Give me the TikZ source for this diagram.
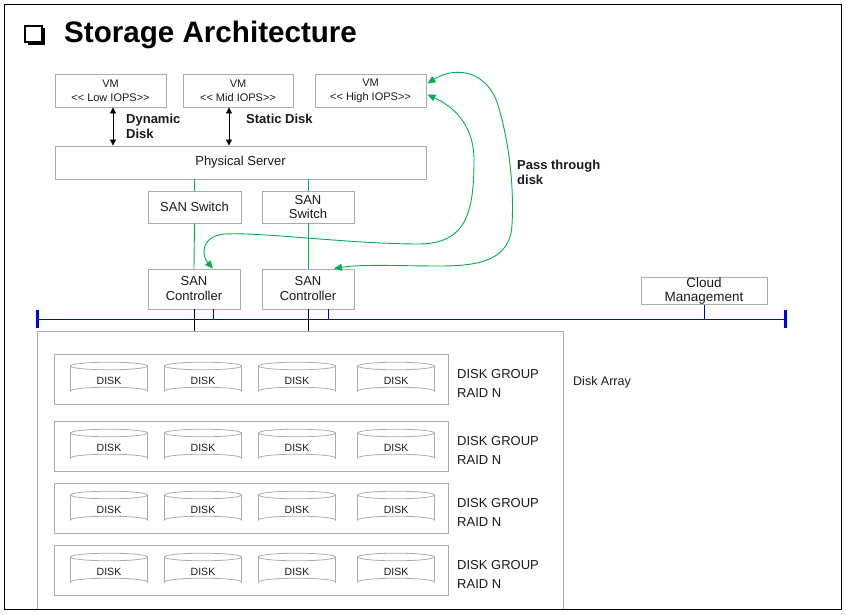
\documentclass[tikz,border=0pt]{standalone}
\usepackage{fontspec}
\setmainfont{Liberation Sans}
\usetikzlibrary{arrows.meta,calc}
\definecolor{boxgray}{RGB}{172,172,172}
\definecolor{pgreen}{RGB}{0,176,80}
\definecolor{busblue}{RGB}{0,0,240}
\definecolor{txt}{RGB}{25,25,35}
\newcommand{\mydisk}[3]{%
  \draw[diskline] (#2-38.5,#3+12) -- (#2-38.5,#3+37) arc[start angle=180,end angle=360,x radius=38.5,y radius=3.8] -- (#2+38.5,#3+12);
  \draw[diskline] (#2,#3+12) ellipse[x radius=38.5,y radius=3.8];
  \node[disktxt] (#1) at (#2,#3+27) {DISK};}
\begin{document}
\begin{tikzpicture}[x=1pt,y=-1pt,
  box/.style={draw=boxgray, line width=0.9pt, inner sep=0pt, align=center, text=txt},
  vmbox/.style={box, minimum height=33pt, font=\fontsize{11}{14}\selectfont},
  bigbox/.style={box, font=\fontsize{13}{14}\selectfont},
  grp/.style={draw=boxgray, line width=0.9pt, minimum width=394pt, minimum height=50pt, inner sep=0pt},
  diskline/.style={draw=boxgray, line width=0.8pt},
  disktxt/.style={font=\fontsize{10.5}{12}\selectfont, text=txt, inner sep=0pt},
  grplbl/.style={anchor=west, align=left, inner sep=0pt, text=txt, font=\fontsize{13}{19}\selectfont},
  lbl/.style={anchor=west, align=left, inner sep=0pt, text=txt, font=\fontsize{13}{15}\selectfont\bfseries},
  blk/.style={draw=black, line width=0.8pt},
  dbl/.style={blk, {Triangle[length=6pt,width=6pt]}-{Triangle[length=6pt,width=6pt]}},
  grn/.style={draw=pgreen, line width=0.9pt},
  grnarr/.style={grn, {Triangle[length=8pt,width=7pt]}-{Triangle[length=8pt,width=7pt]}},
  bus/.style={draw=busblue, line width=0.9pt},
  buscap/.style={draw=busblue, line width=3pt}]
\useasboundingbox (0,0) rectangle (846,615);
% frame
\draw[line width=1pt] (4,5) rectangle (841,609);
% title
\draw[line width=2pt] (25,26) rectangle (42,42);
\fill (42,28.5) rectangle (45,45);
\fill (27.5,42) rectangle (45,45);
\node[anchor=west, inner sep=0pt, font=\fontsize{29.6}{32}\selectfont\bfseries] (title) at (64,35) {Storage Architecture};
% VMs
\node[vmbox, minimum width=111pt] (vm1) at (110.5,90.5) {VM\\{<}{<} Low IOPS{>}{>}};
\node[vmbox, minimum width=110pt] (vm2) at (238,90.5) {VM\\{<}{<} Mid IOPS{>}{>}};
\node[vmbox, minimum width=111pt] (vm3) at (370.5,90.5) {VM\\{<}{<} High IOPS{>}{>}};
% physical server
\node[bigbox, minimum width=371pt, minimum height=33pt] (ps) at (240.5,162.5) {Physical Server};
% switches
\node[bigbox, minimum width=93pt, minimum height=32pt] (sw1) at (194.5,207) {SAN Switch};
\node[bigbox, minimum width=92pt, minimum height=32pt] (sw2) at (308,207) {SAN\\Switch};
% controllers
\node[bigbox, minimum width=92pt, minimum height=40pt, font=\fontsize{13}{15}\selectfont] (ctl1) at (194,289) {SAN\\Controller};
\node[bigbox, minimum width=92pt, minimum height=40pt, font=\fontsize{13}{15}\selectfont] (ctl2) at (308,289) {SAN\\Controller};
% cloud
\node[bigbox, minimum width=126pt, minimum height=24pt, font=\fontsize{13.5}{14}\selectfont] (cloud) at (704,291) {Cloud\\Management};
% labels
\node[lbl] (dyn) at (126,126.5) {Dynamic\\Disk};
\node[lbl] (stat) at (246,119) {Static Disk};
\node[lbl] (pass) at (517,172) {Pass through\\disk};
% VM to server arrows
\draw[dbl] ([xshift=2.5pt]vm1.south) -- ([xshift=2.5pt]vm1.south |- ps.north);
\draw[dbl] ([xshift=-9pt]vm2.south) -- ([xshift=-9pt]vm2.south |- ps.north);
% green links
\draw[grn] (sw1.north |- ps.south) -- (sw1.north);
\draw[grn] (sw2.north |- ps.south) -- (sw2.north);
\draw[grn] (sw1.south) -- (ctl1.north);
\draw[grn] (sw2.south) -- (ctl2.north);
% pass through curves
\coordinate (s1) at ($(vm3.east)+(1,-7)$);
\coordinate (e1) at ($(ctl2.north)+(26,0)$);
\coordinate (s2) at ($(vm3.east)+(1,4)$);
\coordinate (e2) at ($(ctl1.north)+(19,0)$);
\draw[grnarr] (s1) .. controls (455,66) and (487,70) .. (498,105) .. controls (510,145) and (514,190) .. (512,225) .. controls (510,260) and (480,266) .. (440,266) .. controls (400,266) and (362,264) .. (e1);
\draw[grnarr] (s2) .. controls (450,105) and (474,122) .. (474,160) .. controls (474,215) and (465,243) .. (420,244) .. controls (350,244) and (262,232) .. (225,234) .. controls (201,236) and (201,255) .. (e2);
% bus
\coordinate (busL) at (37,319);
\coordinate (busR) at (785,319);
\coordinate (arraytop) at (300,331);
\draw[bus] (busL) -- (busR);
\draw[buscap] ($(busL)+(0,-9)$) -- ($(busL)+(0,9)$);
\draw[buscap] ($(busR)+(0,-9)$) -- ($(busR)+(0,9)$);
\draw[bus] ([xshift=19pt]ctl1.south) -- ([xshift=19pt]ctl1.south |- busL);
\draw[bus] ([xshift=20pt]ctl2.south) -- ([xshift=20pt]ctl2.south |- busL);
\draw[bus] (cloud.south) -- (cloud.south |- busL);
\draw[blk] (ctl1.south) -- (ctl1.south |- arraytop);
\draw[blk] (ctl2.south) -- (ctl2.south |- arraytop);
% disk array
\draw[draw=boxgray, line width=0.9pt] (37,609) -- (37,331) -- (563,331) -- (563,609);
\node[anchor=west, inner sep=0pt, text=txt, font=\fontsize{12.5}{14}\selectfont] (arraylbl) at (573,382) {Disk Array};
\foreach \gy [count=\gi] in {354,421,483,545} {
  \node[grp] (g\gi) at (251,\gy+25) {};
  \foreach \dx [count=\di] in {109,203,297,396} {\mydisk{d\gi\di}{\dx}{\gy}}
  \node[grplbl] (gl\gi) at (457,\gy+29.5) {DISK GROUP\\RAID N};
}
\end{tikzpicture}
\end{document}
